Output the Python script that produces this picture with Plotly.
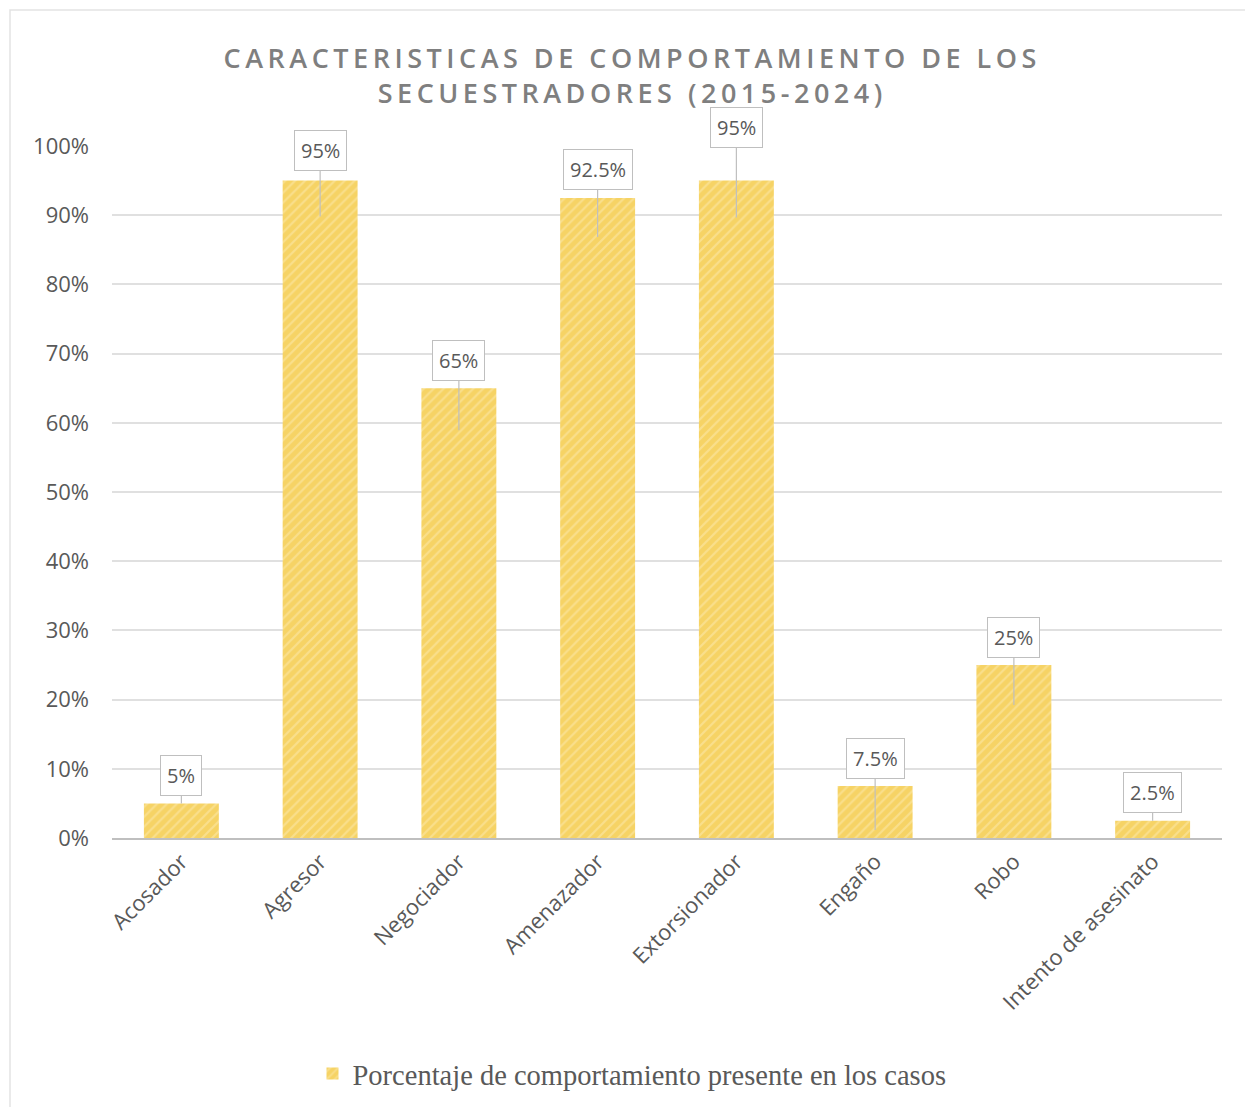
import plotly.graph_objects as go

categories = ["Acosador", "Agresor", "Negociador", "Amenazador", "Extorsionador",
              "Engaño", "Robo", "Intento de asesinato"]
values = [5, 95, 65, 92.5, 95, 7.5, 25, 2.5]
value_labels = ["5%", "95%", "65%", "92.5%", "95%", "7.5%", "25%", "2.5%"]
series_name = "Porcentaje de comportamiento presente en los casos"
title_lines = ["CARACTERISTICAS DE COMPORTAMIENTO DE LOS", "SECUESTRADORES (2015-2024)"]
y_ticks = [0, 10, 20, 30, 40, 50, 60, 70, 80, 90, 100]
y_tick_labels = ["0%", "10%", "20%", "30%", "40%", "50%", "60%", "70%", "80%", "90%", "100%"]

# callout styling (pixels)
box_gap = [28, 30, 28, 28, 53, 28, 28, 28]
tip_depth = [0, 36, 42, 39, 37, 44, 40, 0]

# page offset (browser body margin)
OFF = 8


def tracked(s):
    # wide letter tracking as in the original title
    return "\u2006".join(s)


fig = go.Figure()
fig.add_trace(go.Bar(
    x=categories, y=values, name=series_name,
    marker=dict(color="#F6D365",
                pattern=dict(shape="/", fgcolor="#FCEBB3", bgcolor="#F6D365",
                             size=7, solidity=0.3),
                line=dict(width=0)),
    showlegend=True,
))

for c, v, lab, g, d in zip(categories, values, value_labels, box_gap, tip_depth):
    fig.add_annotation(
        x=c, y=v, xref="x", yref="y", text=lab,
        showarrow=True, arrowhead=0, arrowwidth=1.2, arrowcolor="#BFBFBF",
        ax=0, ay=-(g + d), yshift=-d,
        bgcolor="white", bordercolor="#BFBFBF", borderwidth=1, borderpad=6,
        font=dict(family="Open Sans, sans-serif", size=20, color="#595959"),
    )

W, H = 1253 - OFF, 1107 - OFF
L, T = 112 - OFF, 146 - OFF
R = W - (1222 - OFF)
B = H - (838 - OFF)
pw, ph = W - L - R, H - T - B


def px(xv):
    return (xv - OFF - L) / pw


def py(yv):
    return ((H - B) - (yv - OFF)) / ph


fig.add_shape(type="rect", xref="paper", yref="paper",
              x0=px(10), x1=px(1250), y0=py(1110), y1=py(10),
              line=dict(color="#E3E3E3", width=1.5), fillcolor="rgba(0,0,0,0)", layer="below")

fig.update_layout(
    width=W, height=H,
    margin=dict(l=L, r=R, t=T, b=B),
    paper_bgcolor="white", plot_bgcolor="white",
    bargap=0.46,
    title=dict(text="<br>".join(tracked(t) for t in title_lines),
               x=(630 - OFF) / W, xref="container", xanchor="center",
               y=1 - (68 - OFF) / H, yref="container", yanchor="middle",
               font=dict(family="Open Sans, sans-serif", size=27, color="#7F7F7F", weight=600)),
    legend=dict(orientation="h", x=(632 - OFF) / W, xref="container", xanchor="center",
                y=1 - (1074 - OFF) / H, yref="container", yanchor="middle",
                font=dict(family="Liberation Serif, serif", size=28.5, color="#595959"),
                itemsizing="constant", itemwidth=30),
    xaxis=dict(tickangle=-45, showline=True, linecolor="#BFBFBF", linewidth=2,
               tickfont=dict(family="Open Sans, sans-serif", size=22, color="#595959"),
               showgrid=False, ticks=""),
    yaxis=dict(range=[0, 100], tickvals=y_ticks, ticktext=y_tick_labels,
               showgrid=True, gridcolor="#E0E0E0", gridwidth=1.5, zeroline=False,
               tickfont=dict(family="Open Sans, sans-serif", size=22, color="#595959"),
               ticklabelstandoff=22),
)

fig.write_html("out.html")
